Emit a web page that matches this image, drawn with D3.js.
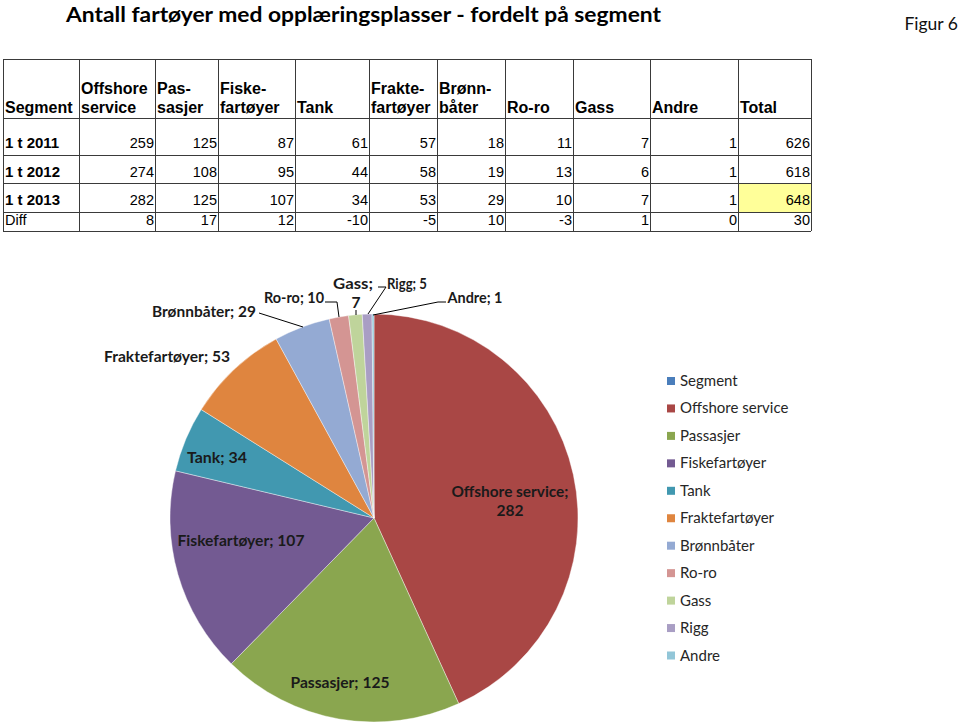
<!DOCTYPE html>
<html>
<head>
<meta charset="utf-8">
<script src="https://cdn.jsdelivr.net/npm/d3@7"></script>
<style>
  html, body { margin: 0; padding: 0; background: #fff; }
  svg { display: block; }
</style>
</head>
<body>
<svg id="chart" width="960" height="727"></svg>
<script>
// ---------------- DATA ----------------
const titleText = "Antall fartøyer med opplæringsplasser - fordelt på segment";
const figText = "Figur 6";

const tableHeaders = [
  ["Segment"], ["Offshore", "service"], ["Pas-", "sasjer"], ["Fiske-", "fartøyer"],
  ["Tank"], ["Frakte-", "fartøyer"], ["Brønn-", "båter"], ["Ro-ro"], ["Gass"], ["Andre"], ["Total"]
];
const rowLabels = ["1 t 2011", "1 t 2012", "1 t 2013", "Diff"];
const row2011 = [259, 125, 87, 61, 57, 18, 11, 7, 1, 626];
const row2012 = [274, 108, 95, 44, 58, 19, 13, 6, 1, 618];
const row2013 = [282, 125, 107, 34, 53, 29, 10, 7, 1, 648];
const rowDiff = [8, 17, 12, -10, -5, 10, -3, 1, 0, 30];

const pieCategories = ["Offshore service", "Passasjer", "Fiskefartøyer", "Tank", "Fraktefartøyer",
  "Brønnbåter", "Ro-ro", "Gass", "Rigg", "Andre"];
const pieValues = [282, 125, 107, 34, 53, 29, 10, 7, 5, 1];
const legendItems = ["Segment", "Offshore service", "Passasjer", "Fiskefartøyer", "Tank",
  "Fraktefartøyer", "Brønnbåter", "Ro-ro", "Gass", "Rigg", "Andre"];
const legendColors = ["#4a7ebb", "#a94745", "#8aa64f", "#735a92", "#4198b0", "#df853f",
  "#94aad3", "#d49593", "#bfd49b", "#a99ec4", "#92c6d8"];

// ---------------- LAYOUT ----------------
const svg = d3.select("#chart");

// Title
svg.append("text").attr("x", 66).attr("y", 22)
  .attr("font-family", "Lato, 'Open Sans', sans-serif").attr("font-weight", "bold")
  .attr("font-size", 21).attr("fill", "#000")
  .attr("textLength", 595).attr("lengthAdjust", "spacingAndGlyphs")
  .text(titleText);
svg.append("text").attr("x", 958).attr("y", 30).attr("text-anchor", "end")
  .attr("font-family", "Lato, 'Open Sans', sans-serif").attr("font-size", 17.5).attr("fill", "#111")
  .text(figText);

// Table
const colEdges = [3, 79, 155, 218, 295, 369, 437, 505, 573, 650, 738, 811];
const rowEdges = [59, 118, 155, 183, 212, 231];
const rowBase = [148, 177, 205, 225];
const tableFont = "'Liberation Sans', Arial, Helvetica, sans-serif";
const tg = svg.append("g");
const rows = [row2011, row2012, row2013, rowDiff];

// yellow highlight: Total cell of 2013
tg.append("rect").attr("x", colEdges[10]).attr("y", rowEdges[3])
  .attr("width", colEdges[11] - colEdges[10]).attr("height", rowEdges[4] - rowEdges[3])
  .attr("fill", "#ffff99");

rowEdges.forEach(y => tg.append("line").attr("x1", colEdges[0]).attr("x2", colEdges[colEdges.length - 1])
  .attr("y1", y + 0.5).attr("y2", y + 0.5).attr("stroke", "#3a3a3a").attr("stroke-width", 1));
colEdges.forEach(x => tg.append("line").attr("x1", x + 0.5).attr("x2", x + 0.5)
  .attr("y1", rowEdges[0]).attr("y2", rowEdges[rowEdges.length - 1]).attr("stroke", "#3a3a3a").attr("stroke-width", 1));

tableHeaders.forEach((lines, i) => {
  const n = lines.length;
  lines.forEach((ln, j) => {
    tg.append("text").attr("x", colEdges[i] + 2).attr("y", 113 - (n - 1 - j) * 19)
      .attr("font-family", tableFont).attr("font-weight", "bold").attr("font-size", 16)
      .attr("fill", "#000").text(ln);
  });
});
rowLabels.forEach((lab, r) => {
  tg.append("text").attr("x", colEdges[0] + 2).attr("y", rowBase[r])
    .attr("font-family", tableFont).attr("font-weight", r < 3 ? "bold" : "normal")
    .attr("font-size", r < 3 ? 15 : 14.5).attr("fill", "#000").text(lab);
  rows[r].forEach((v, c) => {
    tg.append("text").attr("x", colEdges[c + 2] - 1).attr("y", rowBase[r])
      .attr("text-anchor", "end").attr("font-family", tableFont).attr("font-size", 14.5)
      .attr("fill", "#000").text(v);
  });
});

// Pie
const cx = 374, cy = 518, R = 204;
const color = d3.scaleOrdinal().domain(legendItems).range(legendColors);
const pie = d3.pie().sort(null).value(d => d.value);
const pieData = pie(pieCategories.map((c, i) => ({ cat: c, value: pieValues[i] })));
const arc = d3.arc().innerRadius(0).outerRadius(R);
const pg = svg.append("g").attr("transform", `translate(${cx},${cy})`);
pg.selectAll("path").data(pieData).join("path")
  .attr("d", arc).attr("fill", d => color(d.data.cat))
  .attr("stroke", "#ffffff").attr("stroke-width", 0.4);

// Data labels (layout positions, text from data)
const labelFont = "Lato, 'Open Sans', sans-serif";
const labelLayout = {
  "Offshore service": { x: 510, y: 497, split: true, w: 117 },
  "Passasjer": { x: 340, y: 688, w: 99 },
  "Fiskefartøyer": { x: 241, y: 546, w: 127 },
  "Tank": { x: 217, y: 463, w: 60 },
  "Fraktefartøyer": { x: 167, y: 362, w: 126 },
  "Brønnbåter": { x: 204, y: 317, w: 104 },
  "Ro-ro": { x: 294, y: 303, w: 60 },
  "Gass": { x: 353, y: 289, split: true, w: 40 },
  "Rigg": { x: 407, y: 289, w: 40 },
  "Andre": { x: 475, y: 303, w: 55 }
};
const leaders = {
  "Brønnbåter": [[259, 313], [303, 327]],
  "Ro-ro": [[325, 302], [337, 302], [339, 317]],
  "Gass": [[356, 310], [356, 315]],
  "Rigg": [[378, 287], [386, 287], [368, 314]],
  "Andre": [[373, 315], [438, 302], [446, 302]]
};
const lg = svg.append("g");
pieData.forEach(d => {
  const L = labelLayout[d.data.cat];
  if (!L) return;
  if (L.split) {
    lg.append("text").attr("x", L.x).attr("y", L.y).attr("text-anchor", "middle")
      .attr("font-family", labelFont).attr("font-weight", "bold").attr("font-size", 15.5)
      .attr("fill", "#1a1a1a").attr("textLength", L.w).attr("lengthAdjust", "spacingAndGlyphs")
      .text(d.data.cat + ";");
    lg.append("text").attr("x", L.x + (d.data.cat === "Gass" ? 3 : 0)).attr("y", L.y + 19).attr("text-anchor", "middle")
      .attr("font-family", labelFont).attr("font-weight", "bold").attr("font-size", 15.5)
      .attr("fill", "#1a1a1a").text(d.data.value);
  } else {
    lg.append("text").attr("x", L.x).attr("y", L.y).attr("text-anchor", "middle")
      .attr("font-family", labelFont).attr("font-weight", "bold").attr("font-size", 15.5)
      .attr("fill", "#1a1a1a").attr("textLength", L.w).attr("lengthAdjust", "spacingAndGlyphs")
      .text(d.data.cat + "; " + d.data.value);
  }
  const pts = leaders[d.data.cat];
  if (pts) {
    lg.append("polyline").attr("points", pts.map(p => p.join(",")).join(" "))
      .attr("fill", "none").attr("stroke", "#000").attr("stroke-width", 1);
  }
});

// Legend
const legY = d3.scalePoint().domain(legendItems).range([381, 655.5]);
const leg = svg.append("g");
legendItems.forEach(it => {
  const y = legY(it);
  leg.append("rect").attr("x", 667).attr("y", y - 4).attr("width", 8).attr("height", 8)
    .attr("fill", color(it));
  leg.append("text").attr("x", 680).attr("y", y + 5)
    .attr("font-family", labelFont).attr("font-size", 15).attr("fill", "#262626").text(it);
});
</script>
</body>
</html>
